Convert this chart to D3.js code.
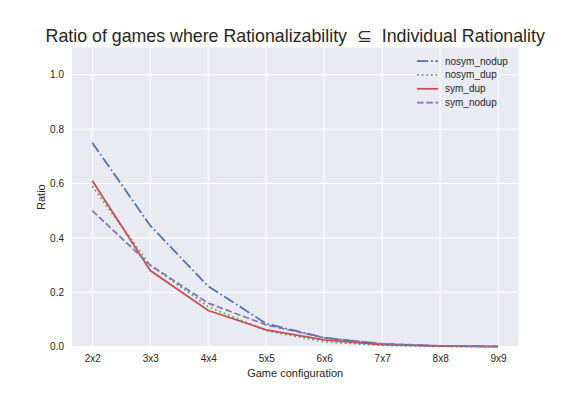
<!DOCTYPE html>
<html><head><meta charset="utf-8">
<script src="https://cdn.jsdelivr.net/npm/d3@7"></script>
<style>body{margin:0;background:#fff}svg{display:block;font-family:Arial,"Liberation Sans",sans-serif}</style>
</head><body><svg id="c" width="576" height="396"></svg>
<script>
const categories = ["2x2","3x3","4x4","5x5","6x6","7x7","8x8","9x9"];
const nosym_nodup = [0.75, 0.445, 0.222, 0.085, 0.033, 0.010, 0.003, 0.001];
const nosym_dup   = [0.59, 0.300, 0.147, 0.059, 0.018, 0.005, 0.001, 0.000];
const sym_dup     = [0.61, 0.280, 0.133, 0.062, 0.025, 0.008, 0.002, 0.000];
const sym_nodup   = [0.50, 0.300, 0.160, 0.080, 0.033, 0.011, 0.003, 0.001];
const yTicks = [0.0, 0.2, 0.4, 0.6, 0.8, 1.0];
const seriesNames = ["nosym_nodup","nosym_dup","sym_dup","sym_nodup"];
const seriesValues = [nosym_nodup, nosym_dup, sym_dup, sym_nodup];
const colors = ["#4C72B0","#55A868","#C44E52","#8172B2"];
const dashes = ["11.2,2.8,1.75,2.8","1.75,2.9",null,"6.5,2.8"];

const svg = d3.select("#c");
const L=72, R=518.4, T=47.5, B=346.7;
const x = d3.scaleLinear().domain([-0.35, categories.length-1+0.35]).range([L,R]);
const y = d3.scaleLinear().domain([0,1.1]).range([B,T]);
const txt="#262626";

svg.append("rect").attr("x",L).attr("y",T).attr("width",R-L).attr("height",B-T).attr("fill","#EAEAF2");
const g = svg.append("g");
g.selectAll(".vg").data(categories).join("line")
  .attr("x1",(d,i)=>x(i)).attr("x2",(d,i)=>x(i)).attr("y1",T).attr("y2",B)
  .attr("stroke","#fff").attr("stroke-width",1);
g.selectAll(".hg").data(yTicks).join("line")
  .attr("x1",L).attr("x2",R).attr("y1",d=>y(d)).attr("y2",d=>y(d))
  .attr("stroke","#fff").attr("stroke-width",1);

const xAxis = d3.axisBottom(x).tickValues(d3.range(categories.length)).tickFormat(i=>categories[i]).tickSize(0).tickPadding(8);
const xa = svg.append("g").attr("transform",`translate(0,${B})`).call(xAxis);
const yAxis = d3.axisLeft(y).tickValues(yTicks).tickFormat(d3.format(".1f")).tickSize(0).tickPadding(8);
const ya = svg.append("g").attr("transform",`translate(${L},0)`).call(yAxis);
[xa,ya].forEach(a=>{a.select(".domain").remove();a.selectAll("text").attr("fill",txt).attr("font-size",10).attr("font-family","Arial, 'Liberation Sans', sans-serif");});

const line = d3.line().x((d,i)=>x(i)).y(d=>y(d));
seriesValues.forEach((vals,k)=>{
  svg.append("path").datum(vals).attr("d",line).attr("fill","none")
    .attr("stroke",colors[k]).attr("stroke-width",1.75)
    .attr("stroke-dasharray",dashes[k]);
});

svg.append("text").attr("x",(L+R)/2).attr("y",377).attr("text-anchor","middle")
  .attr("font-size",11).attr("fill",txt).text("Game configuration");
svg.append("text").attr("transform",`translate(45,${(T+B)/2}) rotate(-90)`).attr("text-anchor","middle")
  .attr("font-size",11).attr("fill",txt).text("Ratio");
svg.append("text").attr("x",(L+R)/2).attr("y",42).attr("text-anchor","middle")
  .attr("font-size",17.8).attr("fill",txt).style("white-space","pre")
  .text("Ratio of games where Rationalizability  \u2286  Individual Rationality");

const lg = svg.append("g");
seriesNames.forEach((n,k)=>{
  const yy = 61 + k*13.9;
  lg.append("line").attr("x1",417).attr("x2",438).attr("y1",yy).attr("y2",yy)
    .attr("stroke",colors[k]).attr("stroke-width",1.75).attr("stroke-dasharray",dashes[k]);
  lg.append("text").attr("x",445).attr("y",yy+3.5).attr("font-size",10).attr("fill",txt).text(n);
});
</script></body></html>
